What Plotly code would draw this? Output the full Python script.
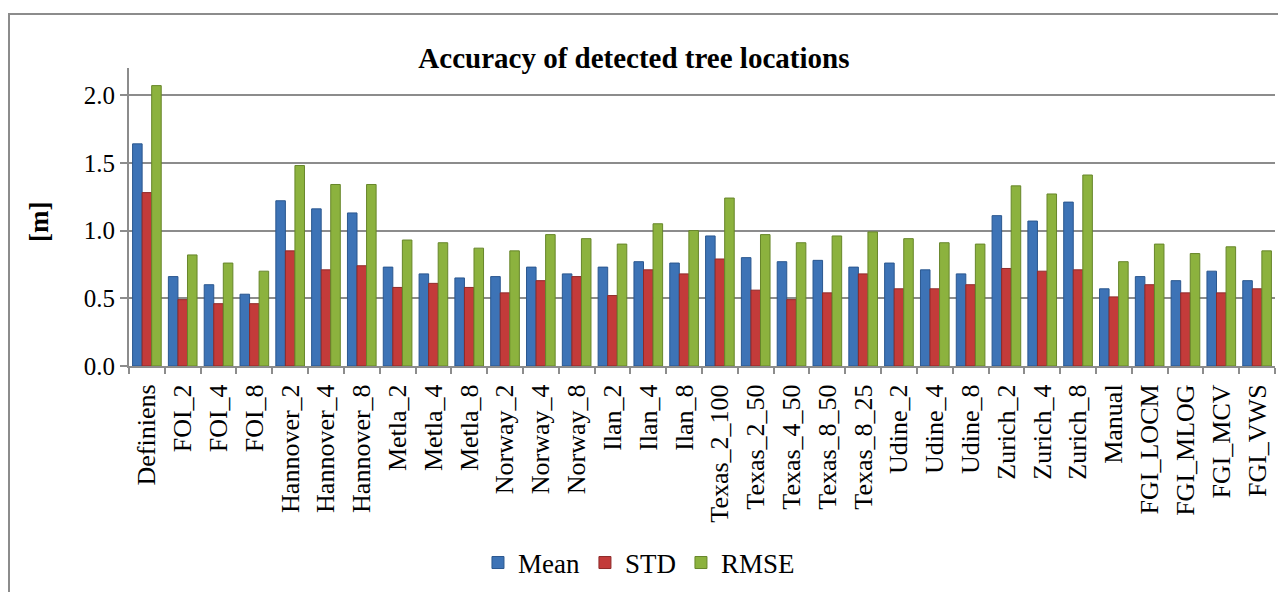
import plotly.graph_objects as go

categories = ['Definiens', 'FOI_2', 'FOI_4', 'FOI_8', 'Hannover_2', 'Hannover_4', 'Hannover_8',
              'Metla_2', 'Metla_4', 'Metla_8', 'Norway_2', 'Norway_4', 'Norway_8',
              'Ilan_2', 'Ilan_4', 'Ilan_8', 'Texas_2_100', 'Texas_2_50', 'Texas_4_50',
              'Texas_8_50', 'Texas_8_25', 'Udine_2', 'Udine_4', 'Udine_8',
              'Zurich_2', 'Zurich_4', 'Zurich_8', 'Manual',
              'FGI_LOCM', 'FGI_MLOG', 'FGI_MCV', 'FGI_VWS']

mean = [1.64, 0.66, 0.60, 0.53, 1.22, 1.16, 1.13,
        0.73, 0.68, 0.65, 0.66, 0.73, 0.68,
        0.73, 0.77, 0.76, 0.96, 0.80, 0.77,
        0.78, 0.73, 0.76, 0.71, 0.68,
        1.11, 1.07, 1.21, 0.57,
        0.66, 0.63, 0.70, 0.63]

std = [1.28, 0.49, 0.46, 0.46, 0.85, 0.71, 0.74,
       0.58, 0.61, 0.58, 0.54, 0.63, 0.66,
       0.52, 0.71, 0.68, 0.79, 0.56, 0.49,
       0.54, 0.68, 0.57, 0.57, 0.60,
       0.72, 0.70, 0.71, 0.51,
       0.60, 0.54, 0.54, 0.57]

rmse = [2.07, 0.82, 0.76, 0.70, 1.48, 1.34, 1.34,
        0.93, 0.91, 0.87, 0.85, 0.97, 0.94,
        0.90, 1.05, 1.00, 1.24, 0.97, 0.91,
        0.96, 0.99, 0.94, 0.91, 0.90,
        1.33, 1.27, 1.41, 0.77,
        0.90, 0.83, 0.88, 0.85]

series = [('Mean', mean, '#3D73B6', '#2A578F'),
          ('STD', std, '#C33B3A', '#8E2A29'),
          ('RMSE', rmse, '#8CB23E', '#67862A')]

FONT = 'Liberation Serif'
GRID = '#8C8C8C'

fig = go.Figure()
for name, vals, col, edge in series:
    fig.add_trace(go.Bar(
        x=categories, y=vals, name=name,
        marker=dict(color=col, line=dict(color=edge, width=1))
    ))

fig.update_layout(
    width=1278, height=592,
    margin=dict(l=129, r=3, t=68, b=226),
    plot_bgcolor='#fff', paper_bgcolor='#fff',
    barmode='group', bargap=0.2, bargroupgap=0,
    title=dict(text='<b>Accuracy of detected tree locations</b>',
               font=dict(family=FONT, size=29, color='#000'),
               xref='container', x=0.496, xanchor='center',
               yref='container', y=0.902, yanchor='middle'),
    legend=dict(orientation='h', x=0.445, xanchor='center', y=-0.661, yanchor='middle',
                font=dict(family=FONT, size=27, color='#000'),
                itemwidth=30, tracegroupgap=0, traceorder='normal'),
    showlegend=True,
)

fig.update_xaxes(
    type='category', tickangle=-90,
    tickfont=dict(family=FONT, size=26, color='#000'),
    ticks='outside', tickson='boundaries', ticklen=6, tickcolor=GRID, tickwidth=2,
    showline=True, linecolor=GRID, linewidth=2,
    showgrid=False, ticklabelstandoff=6,
)
fig.update_yaxes(
    range=[0, 2.2], tickvals=[0, 0.5, 1.0, 1.5, 2.0],
    ticktext=['0.0', '0.5', '1.0', '1.5', '2.0'],
    tickfont=dict(family=FONT, size=25, color='#000'),
    ticks='outside', ticklen=7, tickcolor=GRID, tickwidth=2,
    showline=True, linecolor=GRID, linewidth=2,
    showgrid=True, gridcolor=GRID, gridwidth=2,
    zeroline=False,
)

fig.add_annotation(text='<b>[m]</b>', textangle=-90,
                   xref='paper', yref='paper', x=-0.0785, y=0.483,
                   xanchor='center', yanchor='middle',
                   showarrow=False, font=dict(family=FONT, size=27, color='#000'))

# outer chart border
fig.add_shape(type='rect', xref='paper', yref='paper',
              x0=(9 - 129) / 1146, x1=(1300 - 129) / 1146,
              y0=(366 - 620) / 298, y1=(366 - 14) / 298,
              line=dict(color=GRID, width=2), layer='below')

fig.write_html("out.html", config={'displayModeBar': False},
               post_script="document.body.style.margin='0';document.body.style.overflow='hidden';")
